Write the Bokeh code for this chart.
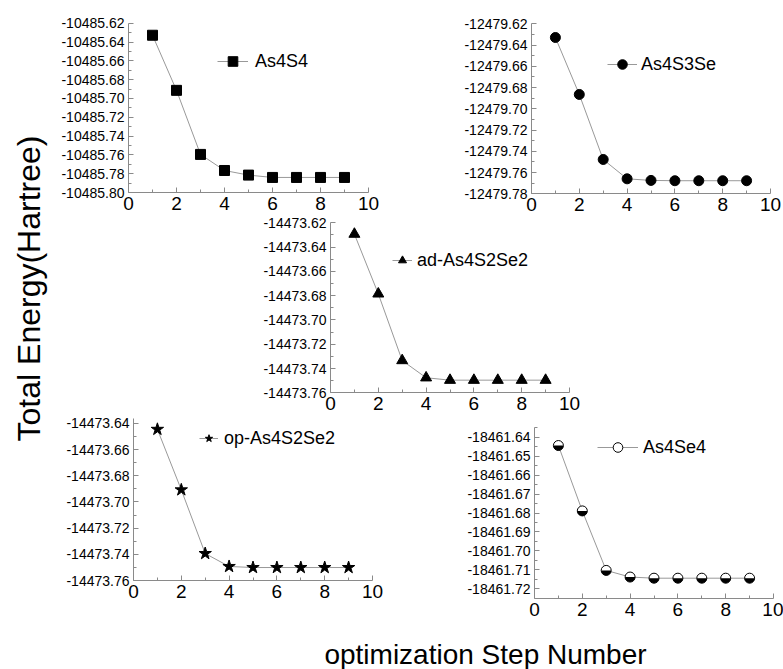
from math import pi
import numpy as np
from bokeh.plotting import figure
from bokeh.models import (Range1d, LinearAxis, FixedTicker, PrintfTickFormatter,
                          Legend, LegendItem, Label)
from bokeh.embed import file_html
from bokeh.resources import INLINE

# ---------------- data ----------------
steps = [1, 2, 3, 4, 5, 6, 7, 8, 9]
e_as4s4 = [-10485.6328, -10485.6914, -10485.7595, -10485.7766, -10485.7815,
           -10485.7840, -10485.7840, -10485.7840, -10485.7840]
e_as4s3se = [-12479.6329, -12479.6865, -12479.7477, -12479.7659, -12479.7674,
             -12479.7677, -12479.7677, -12479.7677, -12479.7677]
e_ad_as4s2se2 = [-14473.6293, -14473.6785, -14473.7334, -14473.7476, -14473.7496,
                 -14473.7496, -14473.7496, -14473.7496, -14473.7496]
e_op_as4s2se2 = [-14473.6446, -14473.6908, -14473.7394, -14473.7493, -14473.7501,
                 -14473.7501, -14473.7501, -14473.7501, -14473.7501]
e_as4se4 = [-18461.6444, -18461.6789, -18461.7103, -18461.7138, -18461.7144,
            -18461.7144, -18461.7144, -18461.7144, -18461.7144]

names = ["As4S4", "As4S3Se", "ad-As4S2Se2", "op-As4S2Se2", "As4Se4"]

x_ticks = [0, 2, 4, 6, 8, 10]
x_minor = [1, 3, 5, 7, 9]
y_ticks_1 = [-10485.80, -10485.78, -10485.76, -10485.74, -10485.72, -10485.70,
             -10485.68, -10485.66, -10485.64, -10485.62]
y_ticks_2 = [-12479.78, -12479.76, -12479.74, -12479.72, -12479.70, -12479.68,
             -12479.66, -12479.64, -12479.62]
y_ticks_3 = [-14473.76, -14473.74, -14473.72, -14473.70, -14473.68, -14473.66,
             -14473.64, -14473.62]
y_ticks_4 = [-14473.76, -14473.74, -14473.72, -14473.70, -14473.68, -14473.66,
             -14473.64]
y_ticks_5 = [-18461.72, -18461.71, -18461.70, -18461.69, -18461.68, -18461.67,
             -18461.66, -18461.65, -18461.64]

# ---------------- layout (pixels) ----------------
W, H = 783, 669
FONT = "Liberation Sans"
AX_COL = "#8a8a8a"
LINE_COL = "#999999"

panels = [
    dict(e=e_as4s4, yt=y_ticks_1, x0=128, x10=368, vt=-10485.62, pt=22.7, vb=-10485.80, pb=192.0,
         bnd=(-10485.80, -10485.62), marker="square", size=10,
         leg=dict(x=217, cy=61, gw=31, so=7)),
    dict(e=e_as4s3se, yt=y_ticks_2, x0=531, x10=770, vt=-12479.62, pt=23.3, vb=-12479.78, pb=193.3,
         bnd=(-12479.78, -12479.62), marker="circle", size=10,
         leg=dict(x=607, cy=64, gw=30, so=4)),
    dict(e=e_ad_as4s2se2, yt=y_ticks_3, x0=330, x10=569, vt=-14473.62, pt=222.3, vb=-14473.76, pb=392.3,
         bnd=(-14473.76, -14473.62), marker="triangle", size=11,
         leg=dict(x=392, cy=260, gw=20, so=5)),
    dict(e=e_op_as4s2se2, yt=y_ticks_4, x0=133, x10=372, vt=-14473.64, pt=422.8, vb=-14473.76, pb=580.0,
         bnd=(-14473.76, -14473.636), marker="star", size=13,
         leg=dict(x=199, cy=438, gw=19, so=6)),
    dict(e=e_as4se4, yt=y_ticks_5, x0=534, x10=773, vt=-18461.64, pt=436.7, vb=-18461.72, pb=588.3,
         bnd=(-18461.7253, -18461.6347), marker="half", size=10,
         leg=dict(x=597, cy=447, gw=41, so=5)),
]

p = figure(width=W, height=H, x_range=Range1d(0, W), y_range=Range1d(0, H),
           x_axis_type=None, y_axis_type=None, output_backend="svg",
           toolbar_location=None, min_border=0, outline_line_color=None)
p.background_fill_color = "white"
p.border_fill_color = "white"

for i, (pn, name) in enumerate(zip(panels, names)):
    xn, yn = f"x{i}", f"y{i}"
    sx = (pn["x10"] - pn["x0"]) / 10.0
    p.extra_x_ranges[xn] = Range1d(-pn["x0"] / sx, (W - pn["x0"]) / sx)
    sy = (pn["pb"] - pn["pt"]) / (pn["vt"] - pn["vb"])
    p.extra_y_ranges[yn] = Range1d(pn["vb"] - (H - pn["pb"]) / sy, pn["vt"] + pn["pt"] / sy)

    yb0, yb1 = pn["bnd"]
    yt = pn["yt"]
    step = round(abs(yt[1] - yt[0]), 4)
    y_minor = [round(v + step / 2, 4) for v in yt[:-1]]
    if yb1 > yt[-1] + step / 2 - 1e-9:
        y_minor.append(round(yt[-1] + step / 2, 4))

    yax = LinearAxis(x_range_name=xn, y_range_name=yn, fixed_location=0,
                     bounds=(yb0 - 1e-6, yb1 + 1e-6),
                     ticker=FixedTicker(ticks=yt, minor_ticks=y_minor),
                     formatter=PrintfTickFormatter(format="%.2f"))
    xax = LinearAxis(x_range_name=xn, y_range_name=yn, fixed_location=yb0,
                     bounds=(0, 10),
                     ticker=FixedTicker(ticks=x_ticks, minor_ticks=x_minor),
                     formatter=PrintfTickFormatter(format="%d"))
    for ax in (yax, xax):
        ax.axis_line_color = AX_COL
        ax.major_tick_line_color = AX_COL
        ax.minor_tick_line_color = AX_COL
        ax.major_tick_in = 5
        ax.major_tick_out = 0
        ax.minor_tick_in = 3
        ax.minor_tick_out = 0
        ax.major_label_text_font = FONT
        ax.major_label_text_color = "black"
    yax.major_label_text_font_size = "14px"
    yax.major_label_standoff = 4
    xax.major_label_text_font_size = "19px"
    xax.major_label_standoff = 4
    p.add_layout(yax, "left")
    p.add_layout(xax, "below")

    rl = p.line(steps, pn["e"], x_range_name=xn, y_range_name=yn,
                line_color=LINE_COL, line_width=1)
    if pn["marker"] == "half":
        r1 = p.scatter(steps, pn["e"], x_range_name=xn, y_range_name=yn,
                       marker="circle", size=pn["size"], fill_color="white", line_color=None)
        p.wedge(steps, pn["e"], radius=pn["size"] / 2, radius_units="screen",
                start_angle=pi, end_angle=2 * pi, x_range_name=xn, y_range_name=yn,
                fill_color="black", line_color=None)
        r2 = p.scatter(steps, pn["e"], x_range_name=xn, y_range_name=yn,
                       marker="circle", size=pn["size"], fill_color=None,
                       line_color="black", line_width=1)
        rends = [rl, r1, r2]
    else:
        rs = p.scatter(steps, pn["e"], x_range_name=xn, y_range_name=yn,
                       marker=pn["marker"], size=pn["size"], color="black")
        rends = [rl, rs]

    lg = pn["leg"]
    hh = 24
    leg = Legend(items=[LegendItem(label=name, renderers=rends)],
                 location=(lg["x"], H - (lg["cy"] + hh / 2)),
                 padding=0, margin=0, spacing=0, border_line_color=None,
                 background_fill_alpha=0, glyph_width=lg["gw"], glyph_height=hh,
                 label_height=hh, label_standoff=lg["so"],
                 label_text_font=FONT, label_text_font_size="18px",
                 label_text_color="black")
    p.add_layout(leg)

p.add_layout(Label(x=28, y=H - 288, text="Total Energy(Hartree)", angle=pi / 2,
                   text_align="center", text_baseline="middle",
                   text_font=FONT, text_font_size="32px", text_color="black"))
p.add_layout(Label(x=485, y=H - 654, text="optimization Step Number",
                   text_align="center", text_baseline="middle",
                   text_font=FONT, text_font_size="28px", text_color="black"))

open("out.html", "w").write(file_html(p, INLINE))
